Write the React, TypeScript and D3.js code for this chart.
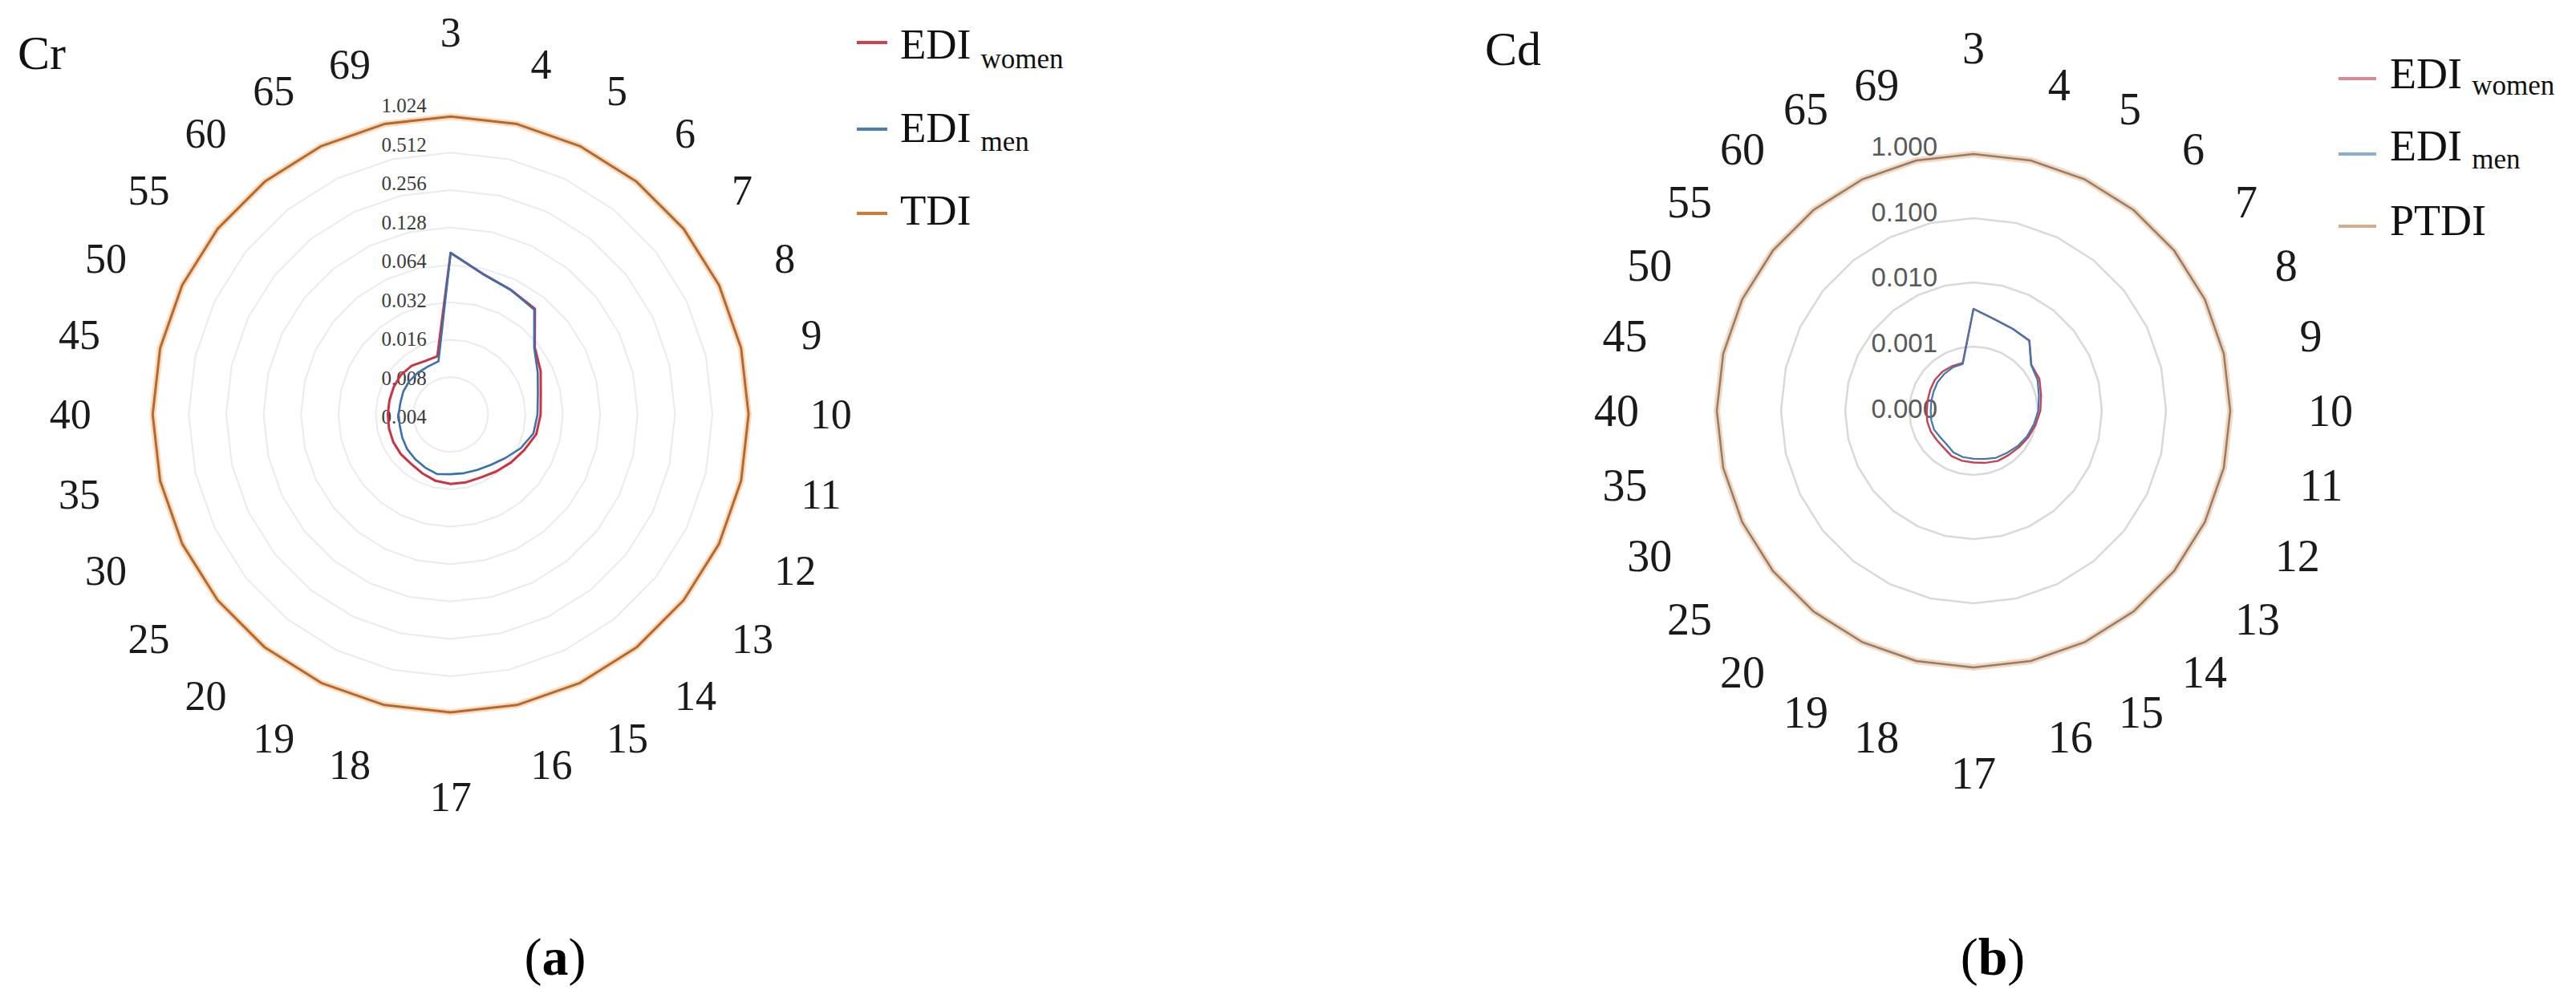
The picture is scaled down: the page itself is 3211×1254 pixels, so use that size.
import React from 'react';
import * as d3 from 'd3';

const categories = ['3','4','5','6','7','8','9','10','11','12','13','14','15','16','17','18','19','20','25','30','35','40','45','50','55','60','65','69'];

// Panel (a) Cr
const crWomen = [0.080,0.058,0.052,0.049,0.0294,0.0255,0.0222,0.0212,0.0204,0.0182,0.0167,0.01545,0.0146,0.0145,0.0145,0.0141,0.0134,0.0129,0.0130,0.0130,0.0129,0.0128,0.0128,0.0129,0.0130,0.0127,0.0120,0.0121];
const crMen = [0.080,0.058,0.052,0.048,0.029,0.0240,0.0210,0.0200,0.0193,0.0169,0.0146,0.0132,0.0125,0.0122,0.0121,0.0124,0.0119,0.0115,0.0112,0.0108,0.0105,0.0105,0.0104,0.0106,0.0107,0.0107,0.0107,0.0110];
const crTDI = [1,1,1,1,1,1,1,1,1,1,1,1,1,1,1,1,1,1,1,1,1,1,1,1,1,1,1,1];
const crTicks = [0.004,0.008,0.016,0.032,0.064,0.128,0.256,0.512,1.024];
const crTickLabels = ['0.004','0.008','0.016','0.032','0.064','0.128','0.256','0.512','1.024'];

// Panel (b) Cd
const cdWomen = [0.00387,0.0029,0.0026,0.0025,0.00142,0.00138,0.00120,0.00110,0.00098,0.00089,0.00081,0.00076,0.00074,0.00068,0.00064,0.00063,0.00061,0.00055,0.00054,0.00055,0.00055,0.000536,0.00054,0.00056,0.00059,0.00060,0.00059,0.00058];
const cdMen = [0.00387,0.0029,0.0026,0.00247,0.0014,0.00128,0.00111,0.00102,0.00092,0.00084,0.00076,0.00069,0.00065,0.00059,0.00056,0.00055,0.000526,0.000468,0.00046,0.00048,0.000473,0.000464,0.000473,0.00049,0.00052,0.00054,0.00056,0.00056];
const cdPTDI = [1,1,1,1,1,1,1,1,1,1,1,1,1,1,1,1,1,1,1,1,1,1,1,1,1,1,1,1];
const cdTicks = [0.0001,0.001,0.01,0.1,1];
const cdTickLabels = ['0.000','0.001','0.010','0.100','1.000'];

const SERIF = "'Liberation Serif','Times New Roman',serif";
const SANS = "'Liberation Sans',Arial,sans-serif";

type Series = { values: number[]; color: string; width: number; halo?: string; haloWidth?: number };

function Radar(props: {
  cx: number; cy: number; scale: any; ticks: number[]; tickLabels: string[];
  gridColor: string; gridWidth: number; series: Series[];
  tickFont: string; tickSize: number; tickColor: string; tickDx: number; tickStretch: number; tickShift: number;
  catSize: number; catR: number; catRV: number;
}) {
  const { cx, cy, scale, ticks, tickLabels, series } = props;
  const n = categories.length;
  const ang = (i: number) => (i * 2 * Math.PI) / n;
  const line = d3.lineRadial<number>().angle((_d, i) => ang(i)).radius((d) => scale(d)).curve(d3.curveLinearClosed);
  const ring = (r: number) => d3.lineRadial<string>().angle((_d, i) => ang(i)).radius(() => r).curve(d3.curveLinearClosed)(categories) as string;
  return (
    <g transform={`translate(${cx},${cy})`}>
      {ticks.slice(1).map((t) => (
        <path key={'g' + t} d={ring(scale(t))} fill="none" stroke={props.gridColor} strokeWidth={props.gridWidth} />
      ))}
      {ticks.map((t, i) => (
        <text key={'t' + t} x={-props.tickDx} y={-scale(t) * props.tickStretch + props.tickShift} textAnchor="end" dominantBaseline="central"
          fontFamily={props.tickFont} fontSize={props.tickSize} fill={props.tickColor}>{tickLabels[i]}</text>
      ))}
      {series.map((s, k) => (
        <g key={'s' + k}>
          {s.halo && <path d={line(s.values) as string} fill="none" stroke={s.halo} strokeWidth={s.haloWidth} strokeLinejoin="round" />}
          <path d={line(s.values) as string} fill="none" stroke={s.color} strokeWidth={s.width} strokeLinejoin="round" />
        </g>
      ))}
      {categories.map((c, i) => {
        const a = ang(i);
        const sx = Math.sin(a), sy = -Math.cos(a);
        const fs = props.catSize;
        const h = 0.68 * fs;
        let x: number, y: number, anchor: string;
        if (Math.abs(sx) < 0.01) {
          x = 0;
          y = props.catRV * sy + (sy > 0 ? h : 0);
          anchor = 'middle';
        } else {
          x = props.catR * sx;
          y = props.catR * sy + h / 2;
          anchor = sx > 0 ? 'start' : 'end';
        }
        return (
          <text key={'c' + c} x={x} y={y} textAnchor={anchor} fontFamily={SERIF} fontSize={fs} fill="#1a1a1a">{c}</text>
        );
      })}
    </g>
  );
}

function LegendItem(p: { x: number; lineY: number; baseY: number; color: string; main: string; sub?: string; fs: number; subFs: number; subDy: number; lineLen: number; gap: number }) {
  return (
    <g>
      <line x1={p.x} x2={p.x + p.lineLen} y1={p.lineY} y2={p.lineY} stroke={p.color} strokeWidth={4} />
      <text x={p.x + p.lineLen + p.gap} y={p.baseY} fontFamily={SERIF} fontSize={p.fs} fill="#111">
        {p.main}
        {p.sub && <tspan fontSize={p.subFs} dy={p.subDy} dx={p.subFs * 0.35}>{p.sub}</tspan>}
      </text>
    </g>
  );
}

export default function App() {
  const Ra = 373;
  const Rb = 320;
  const scaleA = d3.scaleLog().base(2).domain([crTicks[0], crTicks[crTicks.length - 1]]).range([0, Ra]);
  const scaleB = d3.scaleLog().base(10).domain([cdTicks[0], cdTicks[cdTicks.length - 1]]).range([0, Rb]);
  return (
    <svg width={3211} height={1254} style={{ position: 'absolute', left: 0, top: 0, background: '#fff' }}>
      <rect width={3211} height={1254} fill="#fff" />
      <text x={22} y={86} fontFamily={SERIF} fontSize={60} fill="#111">Cr</text>
      <Radar cx={561.7} cy={516.7} scale={scaleA} ticks={crTicks} tickLabels={crTickLabels}
        gridColor="#ebebeb" gridWidth={2}
        series={[
          { values: crTDI, color: '#b8692a', width: 3, halo: '#f8dcc2', haloWidth: 8 },
          { values: crWomen, color: '#cc3344', width: 3 },
          { values: crMen, color: '#3a70ad', width: 2.6 },
        ]}
        tickFont={SERIF} tickSize={25} tickColor="#3a3a3a" tickDx={30} tickStretch={1.04} tickShift={3}
        catSize={52} catR={448} catRV={459} />
      <LegendItem x={1068} lineY={53} baseY={73} color="#d0404e" main="EDI" sub="women" fs={53} subFs={35} subDy={12} lineLen={38} gap={16} />
      <LegendItem x={1068} lineY={161} baseY={177} color="#4a7db5" main="EDI" sub="men" fs={53} subFs={35} subDy={11} lineLen={38} gap={16} />
      <LegendItem x={1068} lineY={266} baseY={280} color="#d07a36" main="TDI" fs={53} subFs={35} subDy={0} lineLen={38} gap={16} />

      <text x={1851} y={81} fontFamily={SERIF} fontSize={60} fill="#111">Cd</text>
      <Radar cx={2460} cy={512} scale={scaleB} ticks={cdTicks} tickLabels={cdTickLabels}
        gridColor="#d9d9d9" gridWidth={2.5}
        series={[
          { values: cdPTDI, color: '#9c7a5e', width: 2.5, halo: '#efd9c5', haloWidth: 8 },
          { values: cdWomen, color: '#c84055', width: 2.4 },
          { values: cdMen, color: '#3f78b0', width: 2.2 },
        ]}
        tickFont={SANS} tickSize={33} tickColor="#595959" tickDx={45} tickStretch={1.02} tickShift={-3}
        catSize={56} catR={417} catRV={433} />
      <LegendItem x={2915} lineY={98} baseY={110} color="#d98a95" main="EDI" sub="women" fs={54} subFs={35} subDy={8} lineLen={47} gap={17} />
      <LegendItem x={2915} lineY={192} baseY={200} color="#86afd0" main="EDI" sub="men" fs={54} subFs={35} subDy={10} lineLen={47} gap={17} />
      <LegendItem x={2915} lineY={282} baseY={293} color="#cfae90" main="PTDI" fs={54} subFs={35} subDy={0} lineLen={47} gap={17} />

      <text x={692} y={1215} textAnchor="middle" fontFamily={SERIF} fontSize={66} fill="#000">(<tspan fontWeight="bold">a</tspan>)</text>
      <text x={2484} y={1215} textAnchor="middle" fontFamily={SERIF} fontSize={66} fill="#000">(<tspan fontWeight="bold">b</tspan>)</text>
    </svg>
  );
}
